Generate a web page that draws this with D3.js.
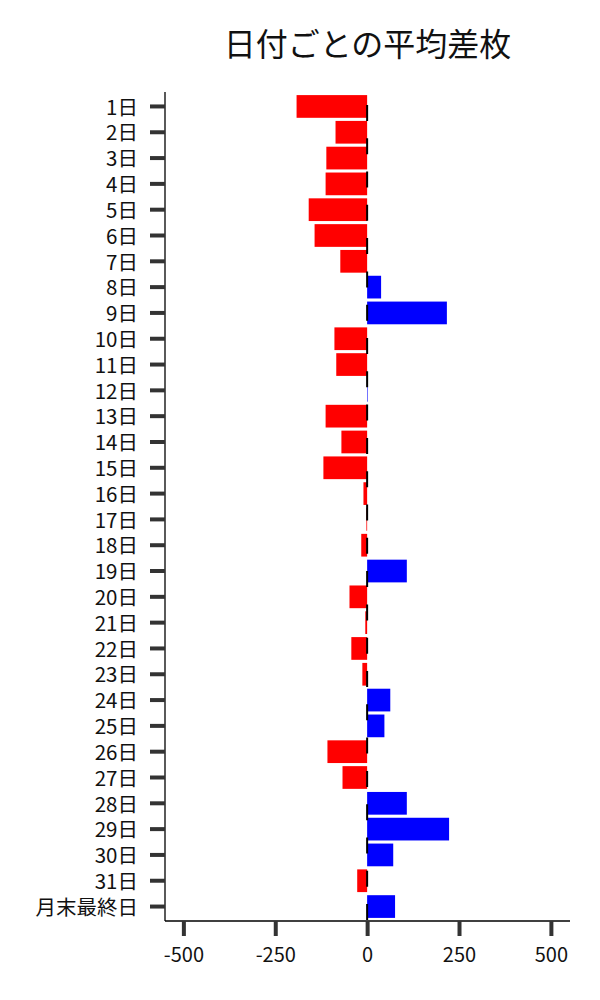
<!DOCTYPE html>
<html>
<head>
<meta charset="utf-8">
<script src="https://cdn.jsdelivr.net/npm/d3@7"></script>
<style>
  html, body { margin: 0; padding: 0; background: #fff; }
  svg { display: block; }
  text { font-family: "Noto Sans CJK JP", "Noto Sans", sans-serif; }
</style>
</head>
<body>
<div id="chart"></div>
<script>
const title = "日付ごとの平均差枚";
const categories = ["1日","2日","3日","4日","5日","6日","7日","8日","9日","10日","11日","12日","13日","14日","15日","16日","17日","18日","19日","20日","21日","22日","23日","24日","25日","26日","27日","28日","29日","30日","31日","月末最終日"];
const values = [-192, -86, -111, -113, -159, -143, -73, 38, 217, -89, -84, 1.5, -113, -70, -119, -10, -2, -16, 108, -48, -5, -43, -13, 63, 47, -108, -67, 108, 223, 71, -27, 76];
const xTicks = [-500, -250, 0, 250, 500];
const xDomain = [-550, 552];

const W = 600, H = 1000;
const margin = { left: 165, right: 30, top: 92, bottom: 79 };

const svg = d3.select("#chart").append("svg").attr("width", W).attr("height", H);

const x = d3.scaleLinear().domain(xDomain).range([margin.left, W - margin.right]);
const y = d3.scaleBand().domain(categories).range([margin.top, H - margin.bottom])
  .paddingInner(0.12).paddingOuter(0.12);

// bars
svg.append("g").selectAll("rect").data(categories.map((c, i) => ({ c, v: values[i] })))
  .join("rect")
  .attr("x", d => x(Math.min(0, d.v)))
  .attr("width", d => Math.abs(x(d.v) - x(0)))
  .attr("y", d => y(d.c))
  .attr("height", y.bandwidth())
  .attr("fill", d => d.v >= 0 ? "#0000ff" : "#ff0000");

// dashed zero line
svg.append("line")
  .attr("x1", x(0)).attr("x2", x(0))
  .attr("y1", y.range()[0] + y.step() * 0.5)
  .attr("y2", H - margin.bottom)
  .attr("stroke", "#000").attr("stroke-width", 2)
  .attr("stroke-dasharray", "16,17.3");

// x axis
const xAxis = d3.axisBottom(x).tickValues(xTicks).tickFormat(d => String(d))
  .tickSize(15).tickPadding(12).tickSizeOuter(0);
const gx = svg.append("g").attr("transform", `translate(0,${H - margin.bottom})`).call(xAxis);
gx.select(".domain").attr("stroke", "#000").attr("stroke-width", 1.3)
  .attr("d", `M${margin.left},0H${W - margin.right}`);
gx.selectAll(".tick line").attr("stroke", "#333").attr("stroke-width", 4);
gx.selectAll(".tick text").attr("font-size", 20).attr("fill", "#111")
  .style("font-family", '"Noto Sans CJK JP", sans-serif');

// y axis
const yAxis = d3.axisLeft(y).tickSize(15).tickPadding(12).tickSizeOuter(0);
const gy = svg.append("g").attr("transform", `translate(${margin.left},0)`).call(yAxis);
gy.select(".domain").attr("stroke", "#000").attr("stroke-width", 1.3)
  .attr("d", `M0,${margin.top}V${H - margin.bottom}`);
gy.selectAll(".tick line").attr("stroke", "#333").attr("stroke-width", 4);
gy.selectAll(".tick text").attr("font-size", 20.5).attr("fill", "#111")
  .attr("dy", "0.4em")
  .style("font-family", '"Noto Sans CJK JP", sans-serif');

// title
svg.append("text")
  .attr("x", (margin.left + W - margin.right) / 2)
  .attr("y", 56)
  .attr("text-anchor", "middle")
  .attr("font-size", 32)
  .attr("fill", "#111")
  .text(title);
</script>
</body>
</html>
